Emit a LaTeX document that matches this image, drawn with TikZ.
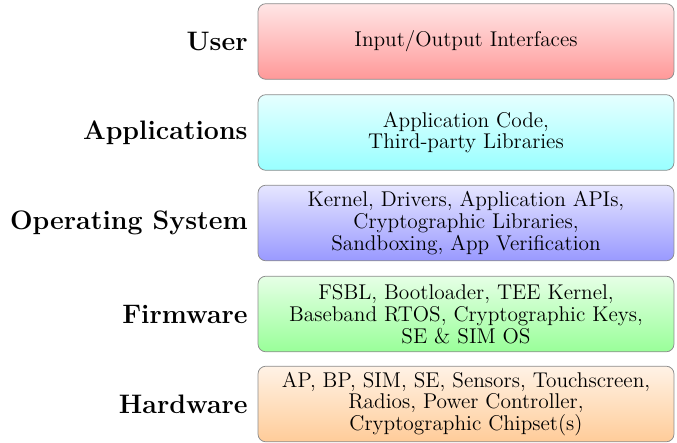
\documentclass[tikz,border=0pt]{standalone}
\usetikzlibrary{positioning}
\begin{document}
\begin{tikzpicture}[x=0.52pt,y=-0.52pt,
  layer/.style={draw=black!45, rounded corners=4pt, minimum width=216.3pt, minimum height=39.3pt, align=center, inner sep=2pt, font=\fontsize{11.1}{11.3}\selectfont},
  lbl/.style={anchor=east, font=\fontsize{13.9}{16}\selectfont\bfseries, inner sep=0pt}]
\useasboundingbox (0,0) rectangle (677,443);
\node[layer, top color=red!10, bottom color=red!40] (user) at (466,41.5) {Input/Output Interfaces};
\node[layer, top color=cyan!10, bottom color=cyan!40] (app) at (466,132.5) {Application Code,\\Third-party Libraries};
\node[layer, top color=blue!10, bottom color=blue!40] (os) at (466,223) {Kernel, Drivers, Application APIs,\\Cryptographic Libraries,\\Sandboxing, App Verification};
\node[layer, top color=green!10, bottom color=green!40] (fw) at (466,314) {FSBL, Bootloader, TEE Kernel,\\Baseband RTOS, Cryptographic Keys,\\SE \& SIM OS};
\node[layer, top color=orange!10, bottom color=orange!40] (hw) at (466,404) {AP, BP, SIM, SE, Sensors, Touchscreen,\\Radios, Power Controller,\\Cryptographic Chipset(s)};
\node[lbl] (luser) at (248,41.5) {User};
\node[lbl] (lapp) at (248,132.5) {Applications};
\node[lbl] (los) at (248,223) {Operating System};
\node[lbl] (lfw) at (248,314) {Firmware};
\node[lbl] (lhw) at (248,404) {Hardware};
\end{tikzpicture}
\end{document}
